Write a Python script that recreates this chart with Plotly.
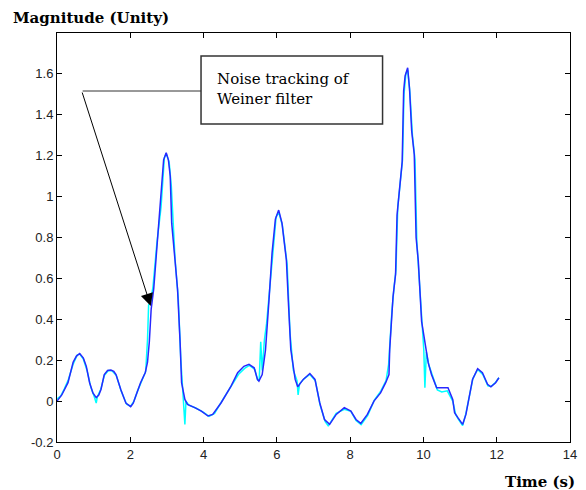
import plotly.graph_objects as go

# Blue (filtered) trace
blue_x = [0.00, 0.13, 0.30, 0.44, 0.53, 0.62, 0.72, 0.80, 0.89, 0.98, 1.07, 1.14, 1.20, 1.29, 1.38, 1.47,
          1.55, 1.61, 1.74, 1.88, 2.01, 2.08, 2.15, 2.28, 2.41, 2.47, 2.52, 2.57, 2.64, 2.73, 2.82, 2.91,
          2.98, 3.04, 3.09, 3.13, 3.22, 3.29, 3.36, 3.40, 3.49, 3.56, 3.76, 3.94, 4.12, 4.25, 4.48, 4.75,
          4.93, 5.10, 5.24, 5.38, 5.47, 5.51, 5.60, 5.69, 5.78, 5.87, 5.96, 6.05, 6.14, 6.26, 6.32, 6.38,
          6.50, 6.57, 6.72, 6.90, 7.04, 7.17, 7.30, 7.44, 7.62, 7.84, 8.02, 8.16, 8.29, 8.47, 8.65, 8.83,
          8.97, 9.06, 9.08, 9.13, 9.17, 9.24, 9.28, 9.35, 9.42, 9.46, 9.50, 9.57, 9.62, 9.68, 9.75, 9.80,
          9.86, 9.95, 10.04, 10.13, 10.22, 10.36, 10.54, 10.67, 10.80, 10.85, 10.94, 11.07, 11.16, 11.25,
          11.34, 11.48, 11.61, 11.75, 11.84, 11.97, 12.06]
blue_y = [0.000, 0.030, 0.090, 0.190, 0.220, 0.233, 0.210, 0.170, 0.090, 0.040, 0.017, 0.030, 0.057, 0.130, 0.150, 0.152,
          0.145, 0.130, 0.057, -0.010, -0.027, -0.010, 0.025, 0.090, 0.140, 0.190, 0.290, 0.450, 0.550, 0.770, 0.940, 1.180,
          1.215, 1.180, 1.100, 0.870, 0.690, 0.546, 0.285, 0.090, 0.008, -0.016, -0.032, -0.049, -0.073, -0.065, -0.008, 0.073,
          0.139, 0.170, 0.180, 0.163, 0.106, 0.098, 0.130, 0.250, 0.480, 0.726, 0.890, 0.934, 0.870, 0.690, 0.465, 0.253,
          0.106, 0.070, 0.106, 0.135, 0.106, -0.008, -0.090, -0.114, -0.065, -0.032, -0.049, -0.090, -0.109, -0.065, 0.000, 0.040,
          0.090, 0.130, 0.253, 0.416, 0.510, 0.620, 0.910, 1.040, 1.170, 1.516, 1.590, 1.630, 1.530, 1.320, 1.206, 0.800,
          0.685, 0.390, 0.277, 0.188, 0.130, 0.065, 0.065, 0.065, 0.008, -0.057, -0.081, -0.114, -0.065, 0.025,
          0.106, 0.158, 0.139, 0.082, 0.070, 0.090, 0.114]

# Cyan (noise tracking) trace
cyan_x = [0.00, 0.10, 0.20, 0.30, 0.44, 0.55, 0.62, 0.72, 0.82, 0.92, 1.02, 1.07, 1.10, 1.20, 1.29, 1.40, 1.50,
          1.62, 1.75, 1.90, 2.01, 2.10, 2.20, 2.30, 2.42, 2.47, 2.50, 2.55, 2.62, 2.73, 2.84, 2.93, 2.98,
          3.06, 3.12, 3.22, 3.31, 3.38, 3.44, 3.49, 3.52, 3.60, 3.80, 4.00, 4.15, 4.30, 4.50, 4.75, 4.95,
          5.12, 5.25, 5.40, 5.48, 5.52, 5.56, 5.60, 5.66, 5.72, 5.80, 5.89, 5.98, 6.05, 6.15, 6.28, 6.36,
          6.45, 6.55, 6.58, 6.62, 6.75, 6.90, 7.05, 7.18, 7.32, 7.40, 7.46, 7.62, 7.84, 8.02, 8.16, 8.30,
          8.48, 8.66, 8.84, 8.98, 9.05, 9.10, 9.14, 9.20, 9.25, 9.30, 9.36, 9.43, 9.47, 9.52, 9.57, 9.63,
          9.70, 9.77, 9.82, 9.88, 9.97, 10.01, 10.04, 10.08, 10.15, 10.25, 10.38, 10.50, 10.65, 10.80,
          10.88, 10.96, 11.07, 11.16, 11.25, 11.35, 11.48, 11.62, 11.76, 11.85, 11.97, 12.06]
cyan_y = [0.010, 0.025, 0.060, 0.100, 0.180, 0.225, 0.230, 0.205, 0.150, 0.070, 0.020, -0.010, 0.020, 0.060, 0.125, 0.150, 0.148,
          0.125, 0.050, -0.015, -0.025, 0.000, 0.050, 0.095, 0.145, 0.300, 0.470, 0.480, 0.560, 0.780, 0.950, 1.190, 1.210,
          1.170, 1.050, 0.700, 0.500, 0.200, 0.040, -0.114, 0.000, -0.020, -0.035, -0.055, -0.075, -0.060, 0.000, 0.070, 0.130,
          0.160, 0.175, 0.155, 0.100, 0.110, 0.290, 0.150, 0.300, 0.380, 0.550, 0.750, 0.900, 0.925, 0.860, 0.670, 0.330,
          0.150, 0.100, 0.030, 0.085, 0.110, 0.130, 0.100, -0.020, -0.100, -0.120, -0.105, -0.060, -0.040, -0.050, -0.095, -0.115,
          -0.070, 0.005, 0.050, 0.100, 0.180, 0.330, 0.440, 0.560, 0.640, 0.950, 1.050, 1.180, 1.500, 1.600, 1.620, 1.510,
          1.300, 1.180, 0.780, 0.600, 0.350, 0.250, 0.065, 0.240, 0.175, 0.120, 0.055, 0.045, 0.050, 0.000,
          -0.065, -0.090, -0.120, -0.060, 0.030, 0.110, 0.155, 0.130, 0.075, 0.072, 0.092, 0.114]

x_ticks = [0, 2, 4, 6, 8, 10, 12, 14]
y_ticks = [-0.2, 0, 0.2, 0.4, 0.6, 0.8, 1.0, 1.2, 1.4, 1.6]
y_tick_text = ["-0.2", "0", "0.2", "0.4", "0.6", "0.8", "1", "1.2", "1.4", "1.6"]

W, H = 586, 490
L, R, T, B = 57, 577, 33, 442


def px(x):
    return (x - L) / (R - L)


def py(y):
    return (B - y) / (B - T)


fig = go.Figure()
fig.add_trace(go.Scatter(x=cyan_x, y=cyan_y, mode="lines",
                         line=dict(color="#00FFFF", width=1.5), showlegend=False))
fig.add_trace(go.Scatter(x=blue_x, y=blue_y, mode="lines",
                         line=dict(color="#2828FF", width=1.5), showlegend=False))

axis_common = dict(showline=True, linecolor="black", linewidth=1, mirror="ticks",
                   ticks="inside", ticklen=5, tickcolor="black", showgrid=False, zeroline=False,
                   tickfont=dict(family="Liberation Sans, Arial", size=13, color="#222"))

fig.update_xaxes(range=[0, 14], tickvals=x_ticks, **axis_common)
fig.update_yaxes(range=[-0.2, 1.8], tickvals=y_ticks, ticktext=y_tick_text, **axis_common)

serif = "DejaVu Serif, Liberation Serif, serif"
fig.update_layout(
    width=W, height=H,
    margin=dict(l=L, r=W - R, t=T, b=H - B),
    paper_bgcolor="white", plot_bgcolor="white",
    shapes=[
        dict(type="rect", xref="paper", yref="paper",
             x0=px(203), x1=px(387), y0=py(124), y1=py(56),
             line=dict(color="#333", width=1.5), fillcolor="white"),
        dict(type="line", xref="paper", yref="paper",
             x0=px(83), x1=px(203), y0=py(91), y1=py(91),
             line=dict(color="#333", width=1)),
    ],
    annotations=[
        dict(text="<b>Magnitude (Unity)</b>", xref="paper", yref="paper",
             x=px(10), y=py(18), xanchor="left", yanchor="middle", showarrow=False,
             font=dict(family=serif, size=15, color="black")),
        dict(text="<b>Time (s)</b>", xref="paper", yref="paper",
             x=px(584), y=py(482), xanchor="right", yanchor="middle", showarrow=False,
             font=dict(family=serif, size=15, color="black")),
        dict(text="Noise tracking of<br>Weiner filter", xref="paper", yref="paper",
             x=px(217), y=py(89), xanchor="left", yanchor="middle", align="left", showarrow=False,
             font=dict(family=serif, size=15, color="black")),
        dict(text="", xref="paper", yref="paper", x=px(152), y=py(306),
             ax=83 - 152, ay=91 - 306, axref="pixel", ayref="pixel",
             showarrow=True, arrowhead=2, arrowsize=2.5, arrowwidth=1, arrowcolor="black"),
    ],
)

fig.write_html("out.html")
